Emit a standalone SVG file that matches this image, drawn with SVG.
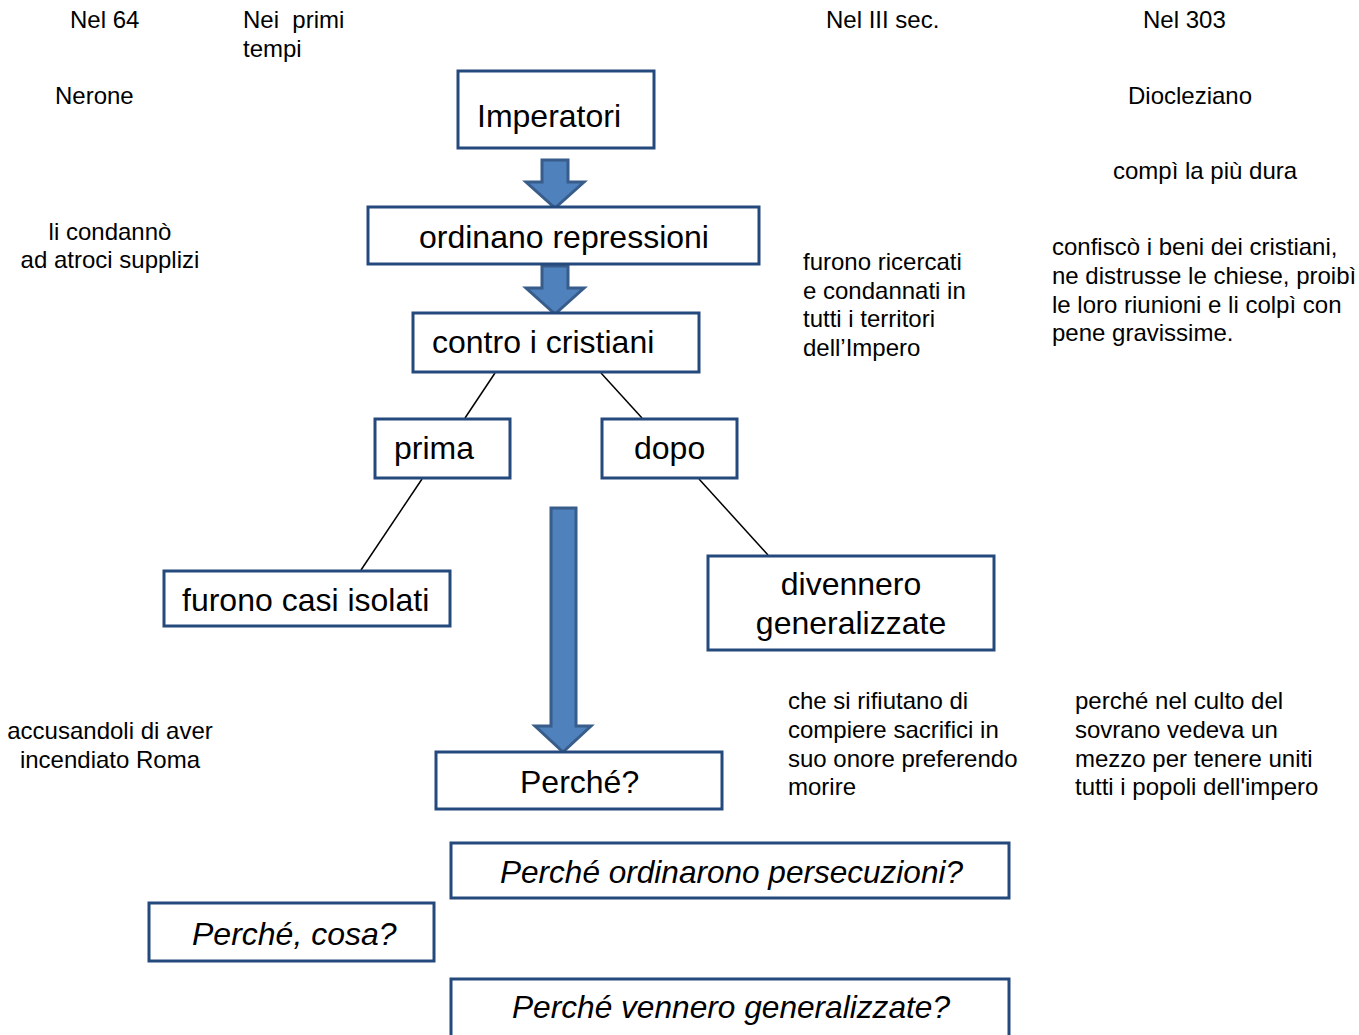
<svg xmlns="http://www.w3.org/2000/svg" width="1359" height="1035" viewBox="0 0 1359 1035">
  <style>
    .box { fill: #ffffff; stroke: #24497c; stroke-width: 3; }
    .lbl { font-family: "Liberation Sans", Arial, sans-serif; font-size: 32px; fill: #000000; }
    .it { font-style: italic; }
    .note { font-family: "Liberation Sans", Arial, sans-serif; font-size: 24px; fill: #000000; }
    .link { stroke: #000000; stroke-width: 1.5; fill: none; }
    .blk { fill: #4f81bd; stroke: #385d8a; stroke-width: 3; stroke-linejoin: miter; }
  </style>
  <rect width="1359" height="1035" fill="#ffffff"/>

  <!-- connectors -->
  <g id="connectors">
    <path class="blk" d="M542,160 L568,160 L568,182 L584,182 L555,208 L526,182 L542,182 Z"/>
    <path class="blk" d="M542,266 L568,266 L568,288 L584,288 L555,314 L526,288 L542,288 Z"/>
    <path class="blk" d="M551,508 L576,508 L576,726 L591,726 L563,752 L535,726 L551,726 Z"/>
    <line class="link" x1="495" y1="373" x2="465" y2="418"/>
    <line class="link" x1="601" y1="373" x2="642" y2="418"/>
    <line class="link" x1="422" y1="479" x2="361" y2="570"/>
    <line class="link" x1="699" y1="479" x2="768" y2="555"/>
  </g>

  <!-- boxed nodes -->
  <g id="imperatori">
    <rect class="box" x="458" y="71" width="196" height="77"/>
    <text class="lbl" x="477" y="127">Imperatori</text>
  </g>
  <g id="ordinano">
    <rect class="box" x="368" y="207" width="391" height="57"/>
    <text class="lbl" x="419" y="248">ordinano repressioni</text>
  </g>
  <g id="contro">
    <rect class="box" x="413" y="313" width="286" height="59"/>
    <text class="lbl" x="432" y="353">contro i cristiani</text>
  </g>
  <g id="prima">
    <rect class="box" x="375" y="419" width="135" height="59"/>
    <text class="lbl" x="394" y="459">prima</text>
  </g>
  <g id="dopo">
    <rect class="box" x="602" y="419" width="135" height="59"/>
    <text class="lbl" x="634" y="459">dopo</text>
  </g>
  <g id="casi-isolati">
    <rect class="box" x="164" y="571" width="286" height="55"/>
    <text class="lbl" x="182" y="611">furono casi isolati</text>
  </g>
  <g id="generalizzate">
    <rect class="box" x="708" y="556" width="286" height="94"/>
    <text class="lbl" x="851" y="595" text-anchor="middle">divennero</text>
    <text class="lbl" x="851" y="634" text-anchor="middle">generalizzate</text>
  </g>
  <g id="perche">
    <rect class="box" x="436" y="752" width="286" height="57"/>
    <text class="lbl" x="520" y="793">Perché?</text>
  </g>
  <g id="q-persecuzioni">
    <rect class="box" x="451" y="843" width="558" height="55"/>
    <text class="lbl it" x="500" y="883" textLength="463" lengthAdjust="spacingAndGlyphs">Perché ordinarono persecuzioni?</text>
  </g>
  <g id="q-cosa">
    <rect class="box" x="149" y="903" width="285" height="58"/>
    <text class="lbl it" x="192" y="945">Perché, cosa?</text>
  </g>
  <g id="q-generalizzate">
    <rect class="box" x="451" y="979" width="558" height="62"/>
    <text class="lbl it" x="512" y="1018" textLength="438" lengthAdjust="spacingAndGlyphs">Perché vennero generalizzate?</text>
  </g>

  <!-- free notes -->
  <g id="nel-64"><text class="note" x="70" y="28">Nel 64</text></g>
  <g id="nei-primi-tempi">
    <text class="note" x="243" y="28" xml:space="preserve">Nei  primi</text>
    <text class="note" x="243" y="57">tempi</text>
  </g>
  <g id="nerone"><text class="note" x="55" y="104">Nerone</text></g>
  <g id="condanno">
    <text class="note" x="110" y="240" text-anchor="middle">li condannò</text>
    <text class="note" x="110" y="268" text-anchor="middle">ad atroci supplizi</text>
  </g>
  <g id="accusandoli">
    <text class="note" x="110" y="739" text-anchor="middle">accusandoli di aver</text>
    <text class="note" x="110" y="768" text-anchor="middle">incendiato Roma</text>
  </g>
  <g id="nel-iii"><text class="note" x="826" y="28">Nel III sec.</text></g>
  <g id="ricercati">
    <text class="note" x="803" y="270">furono ricercati</text>
    <text class="note" x="803" y="299">e condannati in</text>
    <text class="note" x="803" y="327">tutti i territori</text>
    <text class="note" x="803" y="356">dell’Impero</text>
  </g>
  <g id="nel-303"><text class="note" x="1143" y="28">Nel 303</text></g>
  <g id="diocleziano"><text class="note" x="1128" y="104">Diocleziano</text></g>
  <g id="compi"><text class="note" x="1113" y="179">compì la più dura</text></g>
  <g id="confisco">
    <text class="note" x="1052" y="255">confiscò i beni dei cristiani,</text>
    <text class="note" x="1052" y="284">ne distrusse le chiese, proibì</text>
    <text class="note" x="1052" y="313">le loro riunioni e li colpì con</text>
    <text class="note" x="1052" y="341">pene gravissime.</text>
  </g>
  <g id="rifiutano">
    <text class="note" x="788" y="709">che si rifiutano di</text>
    <text class="note" x="788" y="738">compiere sacrifici in</text>
    <text class="note" x="788" y="767">suo onore preferendo</text>
    <text class="note" x="788" y="795">morire</text>
  </g>
  <g id="culto">
    <text class="note" x="1075" y="709">perché nel culto del</text>
    <text class="note" x="1075" y="738">sovrano vedeva un</text>
    <text class="note" x="1075" y="767">mezzo per tenere uniti</text>
    <text class="note" x="1075" y="795">tutti i popoli dell'impero</text>
  </g>
</svg>
